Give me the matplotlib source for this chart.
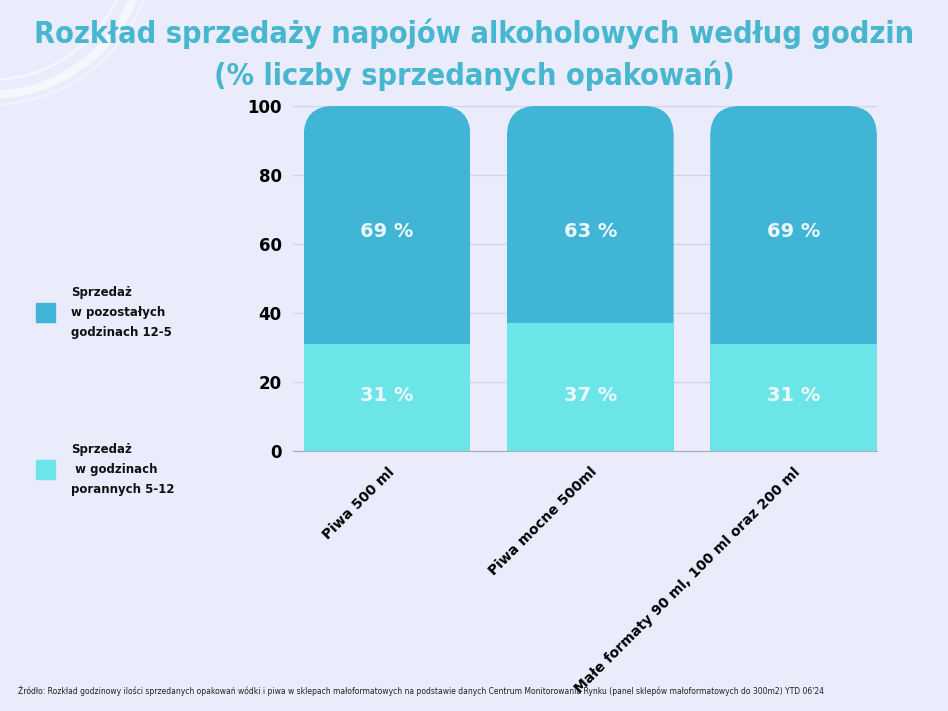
import matplotlib.pyplot as plt
from matplotlib.patches import FancyBboxPatch, Arc

# dane
categories = ['Piwa 500 ml', 'Piwa mocne 500ml', 'Małe formaty 90 ml, 100 ml oraz 200 ml']
morning = [31, 37, 31]
rest = [69, 63, 69]
legend_labels = ['Sprzedaż\nw pozostałych\ngodzinach 12-5', 'Sprzedaż\n w godzinach\nporannych 5-12']
yticks = [0, 20, 40, 60, 80, 100]

bg = '#EAECFC'
c_top = '#41B5D6'
c_bot = '#6CE5E8'
title_col = '#47B6CF'

plt.rcParams['font.family'] = ['DejaVu Sans']

fig = plt.figure(figsize=(9.48, 7.11), dpi=100)
fig.patch.set_facecolor(bg)

# dekoracyjne łuki w lewym górnym rogu (w calach)
for r, lw, a in [(1.55, 6, 0.6), (1.40, 2, 0.5), (1.65, 1.5, 0.4)]:
    fig.add_artist(Arc((-0.1, 7.11 + 0.6), 2 * r, 2 * r, theta1=270, theta2=360,
                       transform=fig.dpi_scale_trans, color='white', lw=lw, alpha=a))

ax = fig.add_axes([0.309, 0.366, 0.616, 0.485])
ax.set_facecolor(bg)
x = list(range(len(categories)))
width = 0.82

# górna część: zaokrąglony słupek przycięty do prostokąta segmentu
tops = ax.bar(x, rest, width, bottom=morning, color=c_top, alpha=0)
for rect in tops:
    y0 = rect.get_y() - 15
    p = FancyBboxPatch((rect.get_x(), y0), rect.get_width(), rect.get_y() + rect.get_height() - y0,
                       boxstyle='round,pad=0,rounding_size=0.148', mutation_aspect=58.8,
                       fc=c_top, ec='none', zorder=2)
    ax.add_patch(p)
    p.set_clip_path(rect)
ax.bar(x, morning, width, color=c_bot, zorder=3)

for i in x:
    ax.text(i, 16, f'{morning[i]} %', ha='center', va='center', color='#EEF8FB',
            fontsize=14, fontweight='bold', zorder=4)
    ax.text(i, 63.5, f'{rest[i]} %', ha='center', va='center', color='#EEF8FB',
            fontsize=14, fontweight='bold', zorder=4)

ax.set_xlim(-0.463, 2.41)
ax.set_ylim(0, 100)
ax.set_yticks(yticks)
ax.set_yticklabels([str(t) for t in yticks], fontsize=12, fontweight='bold')
ax.set_xticks(x)
ax.set_xticklabels(categories, rotation=45, ha='right', rotation_mode='anchor',
                   fontsize=10, fontweight='bold')
ax.tick_params(length=0, pad=8)
ax.tick_params(axis='x', pad=10)
ax.grid(axis='y', color='#D2D3DE', lw=1, zorder=0)
ax.set_axisbelow(True)
for s in ['top', 'right', 'left']:
    ax.spines[s].set_visible(False)
ax.spines['bottom'].set_color('#A9ABB5')

# tytuł
fig.text(0.5, 0.953, 'Rozkład sprzedaży napojów alkoholowych według godzin', ha='center', va='center',
         fontsize=22, fontweight='bold', color=title_col, fontstretch='condensed')
fig.text(0.5, 0.894, '(% liczby sprzedanych opakowań)', ha='center', va='center',
         fontsize=22, fontweight='bold', color=title_col, fontstretch='condensed')

# legenda
for lab, col, yc in [(legend_labels[0], c_top, 0.561), (legend_labels[1], c_bot, 0.34)]:
    fig.patches.append(plt.Rectangle((0.038, yc - 0.0135), 0.02, 0.027, transform=fig.transFigure,
                                     color=col, figure=fig))
    fig.text(0.075, yc, lab, ha='left', va='center', fontsize=8.5, fontweight='bold',
             linespacing=1.7, color='#111111')

fig.text(0.019, 0.028, 'Źródło: Rozkład godzinowy ilości sprzedanych opakowań wódki i piwa w sklepach małoformatowych '
         'na podstawie danych Centrum Monitorowania Rynku (panel sklepów małoformatowych do 300m2) YTD 06\'24',
         ha='left', va='center', fontsize=6.1, color='#222222', fontstretch='condensed')

fig.savefig('out.png', dpi=100, facecolor=bg)
